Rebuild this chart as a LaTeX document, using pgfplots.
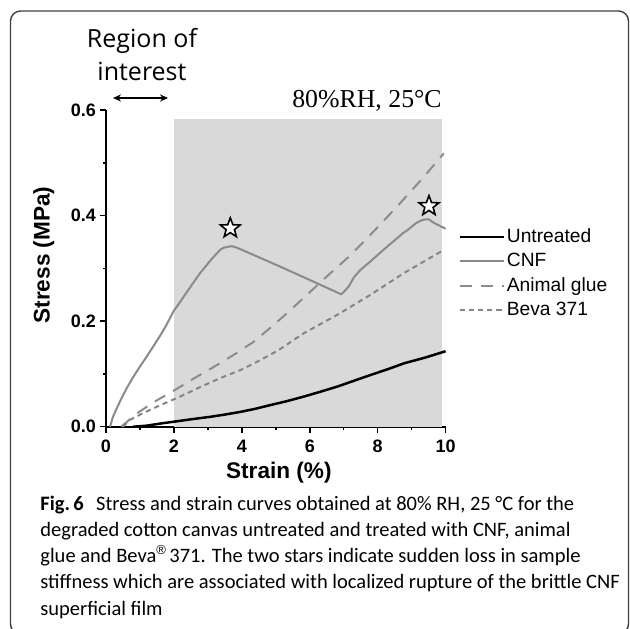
\documentclass[border=0pt]{standalone}
\usepackage{fontspec}
\setmainfont{Liberation Sans}
\newfontfamily\timesf{Liberation Serif}
\newfontfamily\osans{Open Sans}
\newfontfamily\capf{Carlito}
\usepackage{pgfplots}
\pgfplotsset{compat=1.18}
\usetikzlibrary{arrows.meta}

\definecolor{cnf}{HTML}{8A8A8A}
\definecolor{glue}{HTML}{8C8C8C}
\definecolor{beva}{HTML}{858585}
\definecolor{roi}{HTML}{D9D9D9}

\pgfdeclareplotmark{ostar}{%
 \pgfpathmoveto{\pgfpointpolar{90}{\pgfplotmarksize}}%
 \pgfpathlineto{\pgfpointpolar{126}{0.42\pgfplotmarksize}}%
 \pgfpathlineto{\pgfpointpolar{162}{\pgfplotmarksize}}%
 \pgfpathlineto{\pgfpointpolar{198}{0.42\pgfplotmarksize}}%
 \pgfpathlineto{\pgfpointpolar{234}{\pgfplotmarksize}}%
 \pgfpathlineto{\pgfpointpolar{270}{0.42\pgfplotmarksize}}%
 \pgfpathlineto{\pgfpointpolar{306}{\pgfplotmarksize}}%
 \pgfpathlineto{\pgfpointpolar{342}{0.42\pgfplotmarksize}}%
 \pgfpathlineto{\pgfpointpolar{18}{\pgfplotmarksize}}%
 \pgfpathlineto{\pgfpointpolar{54}{0.42\pgfplotmarksize}}%
 \pgfpathclose
 \pgfusepathqfillstroke}

\begin{document}
\begin{tikzpicture}
\useasboundingbox (-53pt,-100.65pt) rectangle (262pt,213.35pt);

\begin{axis}[
  at={(0,0)}, anchor=south west,
  scale only axis, width=169.8pt, height=158.35pt,
  xmin=0, xmax=10, ymin=0, ymax=0.6,
  axis x line=bottom, axis y line=left,
  axis line style={line width=1pt, -},
  xtick={0,2,4,6,8,10}, ytick={0,0.2,0.4,0.6},
  minor x tick num=1, minor y tick num=1,
  tick align=outside,
  major tick length=3pt, minor tick length=1.6pt,
  major tick style={line width=0.75pt, black},
  minor tick style={line width=0.75pt, black},
  tick label style={font=\bfseries\fontsize{9}{10}\selectfont},
  /pgf/number format/assume math mode=true,
  yticklabel style={xshift=1.5pt, /pgf/number format/fixed, /pgf/number format/fixed zerofill, /pgf/number format/precision=1},
  xlabel={Strain (\%)}, ylabel={Stress (MPa)},
  every axis x label/.style={at={(axis description cs:0.509,-0.146)}, anchor=center, font=\bfseries\fontsize{11.3}{13}\selectfont},
  every axis y label/.style={at={(axis description cs:-0.183,0.542)}, anchor=center, rotate=90, font=\bfseries\fontsize{11.3}{13}\selectfont},
  legend style={draw=none, fill=none, at={(axis description cs:1.0365,0.634)}, anchor=north west,
     font=\fontsize{9.6}{11}\selectfont, inner sep=0pt, row sep=1.9pt, nodes={inner sep=1pt}},
  legend cell align=left,
  legend image code/.code={\draw[#1] (0pt,0pt) -- (22pt,0pt);},
  clip=false,
]
\addplot[fill=roi, draw=none, forget plot] coordinates {(2,0) (2,0.583) (9.9,0.583) (9.9,0)} -- cycle;

\addplot[black, line width=1.25pt] coordinates {
(0.8,0) (1.2,0.002) (1.6,0.006) (2.0,0.0095) (2.5,0.014) (3.1,0.019) (3.5,0.023) (3.95,0.028) (4.4,0.034) (4.84,0.041) (5.3,0.048) (5.82,0.057) (6.3,0.066) (6.81,0.076) (7.3,0.087) (7.79,0.098) (8.3,0.109) (8.77,0.120) (9.4,0.131) (10.0,0.143)};
\addlegendentry{Untreated}

\addplot[cnf, line width=1pt] coordinates {
(0.12,0) (0.2,0.018) (0.31,0.034) (0.45,0.053) (0.61,0.073) (0.8,0.094) (1.0,0.114) (1.2,0.133) (1.4,0.153) (1.6,0.173) (1.79,0.194) (1.99,0.219) (2.2,0.238) (2.4,0.257) (2.77,0.291) (3.1,0.317) (3.36,0.335) (3.46,0.339) (3.6,0.341) (3.71,0.342) (3.86,0.339)
(5.0,0.307) (6.0,0.278) (6.92,0.251) (7.0,0.255) (7.15,0.266) (7.3,0.283) (7.49,0.297) (7.8,0.314) (8.08,0.330) (8.35,0.345) (8.57,0.357) (8.75,0.367) (8.87,0.372) (9.0,0.379) (9.16,0.387) (9.3,0.391) (9.41,0.393) (9.5,0.393) (9.66,0.386) (10.0,0.375)};
\addlegendentry{CNF}

\addplot[glue, line width=1pt, dash pattern=on 6pt off 4.5pt] coordinates {
(0.45,0) (0.88,0.024) (1.42,0.047) (2.04,0.070) (2.63,0.093) (3.22,0.115) (3.81,0.138) (4.35,0.161) (4.96,0.194) (5.43,0.221) (6.02,0.256) (6.56,0.288) (7.15,0.322) (7.69,0.357) (8.57,0.417) (9.3,0.469) (9.95,0.518)};
\addlegendentry{Animal glue}

\addplot[beva, line width=1pt, dash pattern=on 2.6pt off 2pt] coordinates {
(0.5,0) (0.71,0.013) (1.1,0.026) (1.54,0.039) (2.18,0.057) (2.77,0.075) (3.36,0.092) (3.95,0.107) (4.54,0.126) (5.08,0.145) (5.82,0.177) (6.81,0.212) (7.79,0.250) (8.77,0.291) (9.95,0.335)};
\addlegendentry{Beva 371}

\addplot[only marks, mark=ostar, mark size=5.2pt, mark options={fill=white, draw=black, line width=0.8pt}, forget plot] coordinates {(3.66,0.376) (9.51,0.418)};
\end{axis}

\begin{scope}[x=0.5pt,y=-0.5pt,shift={(-106,-426.7)}]
  \draw[line width=0.7pt, black!75, rounded corners=5pt] (10.5,11) rectangle (628.5,634);
  \node[font=\osans\fontsize{12.5}{15}\selectfont, anchor=base] at (142,47) {Region of};
  \node[font=\osans\fontsize{12.5}{15}\selectfont, anchor=base] at (142,80) {interest};
  \draw[line width=0.6pt, {Stealth[length=4pt,width=3.6pt]}-{Stealth[length=4pt,width=3.6pt]}] (113,98) -- (168,98);
  \node[font=\timesf\fontsize{12.9}{14}\selectfont, anchor=base] at (367,107) {80\%RH, 25°C};
  \begin{scope}[every node/.style={font=\capf\fontsize{10.25}{13}\selectfont, anchor=base west, inner sep=0pt}]
    \node at (40,510) {\textbf{Fig.\,6}\hspace{0.6em}Stress and strain curves obtained at 80\% RH, 25 °C for the};
    \node at (40,536.3) {degraded cotton canvas untreated and treated with CNF, animal};
    \node at (40,562.6) {glue and Beva\raisebox{0.8ex}{\normalfont\fontsize{6.5}{7}\selectfont ®}\,371. The two stars indicate sudden loss in sample};
    \node at (40,588.9) {stiffness which are associated with localized rupture of the brittle CNF};
    \node at (40,615.2) {superficial film};
  \end{scope}
\end{scope}
\end{tikzpicture}
\end{document}
